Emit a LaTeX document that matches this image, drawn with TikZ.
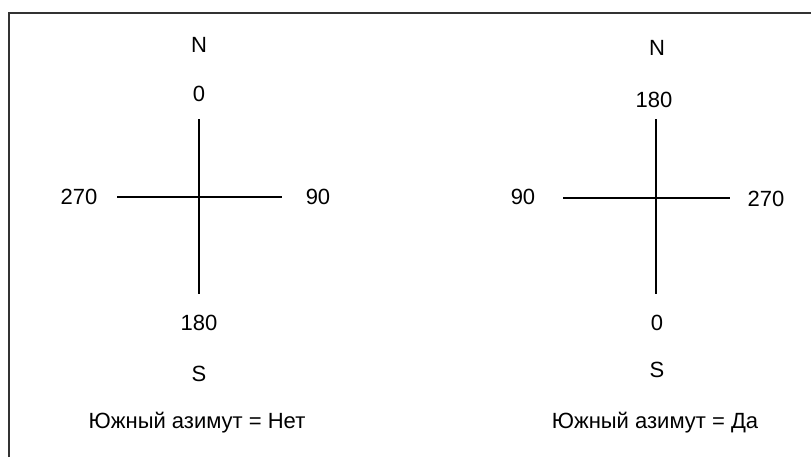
\documentclass[tikz,border=0pt]{standalone}
\usepackage{fontspec}
\setmainfont{Liberation Sans}
\usetikzlibrary{positioning}

\begin{document}
\begin{tikzpicture}[
   x=0.5pt, y=-0.5pt, font=\fontsize{11}{13}\selectfont,
   lbl/.style={inner sep=0pt, anchor=center},
   arm/.style={line width=1pt, black},
   frame/.style={line width=1.1pt, black!80}]
  \useasboundingbox (0,0) rectangle (811,457);
  \draw[frame] (9,457) -- (9,13) -- (811,13);
  % South azimuth = no
  \coordinate (lN) at (199,119);  \coordinate (lS) at (199,294);
  \coordinate (lW) at (117,197);  \coordinate (lE) at (282,197);
  \draw[arm] (lN) -- (lS);  \draw[arm] (lW) -- (lE);
  \node[lbl] (lNn)  at (199,45)  {N};
  \node[lbl] (lNv)  at (199,94)  {0};
  \node[lbl] (lWv)  at (79,197)  {270};
  \node[lbl] (lEv)  at (318,197) {90};
  \node[lbl] (lSv)  at (199,323) {180};
  \node[lbl] (lSn)  at (199,374) {S};
  \node[lbl] (lcap) at (197,423) {Южный азимут = Нет};
  % South azimuth = yes
  \coordinate (rN) at (656,119);  \coordinate (rS) at (656,294);
  \coordinate (rW) at (563,198);  \coordinate (rE) at (730,198);
  \draw[arm] (rN) -- (rS);  \draw[arm] (rW) -- (rE);
  \node[lbl] (rNn)  at (657,48)  {N};
  \node[lbl] (rNv)  at (654,100) {180};
  \node[lbl] (rWv)  at (523,197) {90};
  \node[lbl] (rEv)  at (766,199) {270};
  \node[lbl] (rSv)  at (657,323) {0};
  \node[lbl] (rSn)  at (657,370) {S};
  \node[lbl] (rcap) at (655,423) {Южный азимут = Да};
\end{tikzpicture}
\end{document}
